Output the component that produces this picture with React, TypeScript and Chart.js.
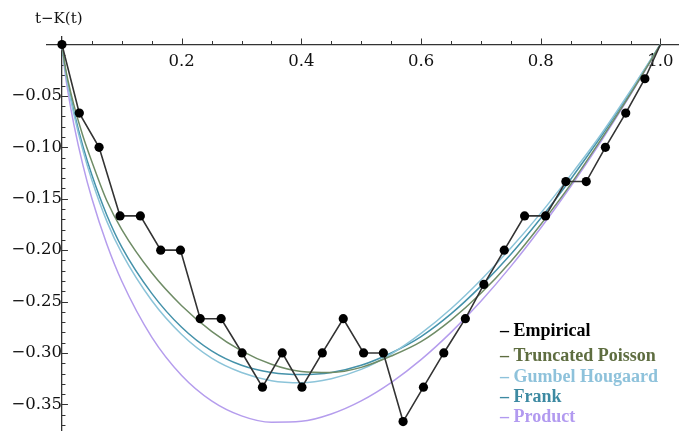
import React, { useEffect, useRef } from "react";
import { Chart, registerables } from "chart.js";

Chart.register(...registerables);

// ---- data ----
const empiricalT = [0, 0.029, 0.062, 0.097, 0.131, 0.165, 0.198, 0.231, 0.266, 0.301, 0.335, 0.368, 0.401, 0.435, 0.47, 0.504, 0.537, 0.57, 0.604, 0.638, 0.674, 0.705, 0.739, 0.773, 0.808, 0.842, 0.876, 0.908, 0.942, 0.974, 1.0];
const empiricalV = [0, -0.0667, -0.1, -0.1667, -0.1667, -0.2, -0.2, -0.2667, -0.2667, -0.3, -0.3333, -0.3, -0.3333, -0.3, -0.2667, -0.3, -0.3, -0.3667, -0.3333, -0.3, -0.2667, -0.2333, -0.2, -0.1667, -0.1667, -0.1333, -0.1333, -0.1, -0.0667, -0.0333, 0];

const curveT = [0, 0.005, 0.01, 0.02, 0.035, 0.05, 0.075, 0.1, 0.15, 0.2, 0.25, 0.3, 0.35, 0.4, 0.45, 0.5, 0.55, 0.6, 0.65, 0.7, 0.75, 0.8, 0.85, 0.9, 0.95, 1];
const truncatedPoisson = [0, -0.02, -0.035, -0.059, -0.089, -0.114, -0.152, -0.18, -0.222, -0.254, -0.279, -0.298, -0.311, -0.318, -0.319, -0.314, -0.303, -0.289, -0.268, -0.242, -0.211, -0.175, -0.136, -0.093, -0.048, 0];
const gumbelHougaard = [0, -0.023, -0.04, -0.068, -0.103, -0.132, -0.172, -0.203, -0.249, -0.282, -0.305, -0.319, -0.327, -0.329, -0.325, -0.316, -0.301, -0.281, -0.257, -0.229, -0.198, -0.164, -0.127, -0.088, -0.045, 0];
const frank = [0, -0.022, -0.038, -0.065, -0.099, -0.127, -0.166, -0.197, -0.242, -0.275, -0.298, -0.312, -0.319, -0.321, -0.319, -0.312, -0.3, -0.284, -0.262, -0.235, -0.204, -0.169, -0.131, -0.09, -0.046, 0];
const product = [0, -0.0265, -0.0461, -0.0782, -0.1173, -0.1498, -0.1943, -0.2303, -0.2846, -0.3219, -0.3466, -0.3612, -0.3674, -0.3665, -0.3593, -0.3466, -0.3288, -0.3065, -0.28, -0.2497, -0.2158, -0.1785, -0.1381, -0.0948, -0.0487, 0];

const seriesNames = ["Empirical", "Truncated Poisson", "Gumbel Hougaard", "Frank", "Product"];
const seriesColors = ["#111111", "#6f8c66", "#8cc4d9", "#4592aa", "#b59ded"];
const legendColors = ["#000000", "#5e6d40", "#8ec2db", "#3d8aa2", "#b29af0"];

const yTitle = "t\u2212K(t)";
const xMajorStep = 0.2;
const xMinorStep = 0.05;
const yMajorStep = 0.05;
const yMinorStep = 0.01;

const toXY = (xs: number[], ys: number[]) => xs.map((x, i) => ({ x, y: ys[i] }));

const decorPlugin = {
  id: "decor",
  beforeDatasetsDraw(chart: any) {
    const { ctx, scales } = chart;
    const xs = scales.x;
    const ys = scales.y;
    const y0 = ys.getPixelForValue(0);
    const x0 = xs.getPixelForValue(0);
    ctx.save();
    ctx.strokeStyle = "#333";
    ctx.lineWidth = 1;
    ctx.beginPath();
    const nx = Math.round(1 / xMinorStep);
    const perMajX = Math.round(xMajorStep / xMinorStep);
    for (let i = 1; i <= nx; i++) {
      const px = Math.round(xs.getPixelForValue(i * xMinorStep)) + 0.5;
      const len = i % perMajX === 0 ? 6 : 3.5;
      ctx.moveTo(px, y0);
      ctx.lineTo(px, y0 - len);
    }
    const ny = Math.floor(-ys.min / yMinorStep);
    const perMajY = Math.round(yMajorStep / yMinorStep);
    for (let i = 1; i <= ny; i++) {
      const py = Math.round(ys.getPixelForValue(-i * yMinorStep)) + 0.5;
      const len = i % perMajY === 0 ? 6 : 3.5;
      ctx.moveTo(x0, py);
      ctx.lineTo(x0 + len, py);
    }
    ctx.stroke();
    ctx.restore();
  },
  afterDraw(chart: any) {
    const { ctx } = chart;
    ctx.save();
    ctx.font = "15px 'DejaVu Serif'";
    ctx.fillStyle = "#111";
    ctx.textBaseline = "middle";
    ctx.textAlign = "left";
    ctx.fillText(yTitle, 35, 19);
    ctx.font = "bold 18px 'Liberation Serif'";
    const rows = [331, 356, 377, 397, 417];
    seriesNames.forEach((name, i) => {
      ctx.fillStyle = legendColors[i];
      ctx.fillText("\u2013 " + name, 500, rows[i]);
    });
    ctx.restore();
  },
};

export default function App() {
  const ref = useRef<HTMLCanvasElement | null>(null);
  useEffect(() => {
    document.body.style.margin = "0";
    document.body.style.overflow = "hidden";
    document.documentElement.style.overflow = "hidden";
    const canvas = ref.current;
    if (!canvas) return;
    const curveDs = (label: string, values: number[], color: string) => ({
      label,
      data: toXY(curveT, values),
      borderColor: color,
      backgroundColor: color,
      borderWidth: 1.5,
      pointRadius: 0,
      cubicInterpolationMode: "monotone" as const,
      fill: false,
    });
    const tickFont = { family: "'DejaVu Serif'", size: 16.5 };
    const chart = new Chart(canvas, {
      type: "line",
      data: {
        datasets: [
          {
            label: seriesNames[0],
            data: toXY(empiricalT, empiricalV),
            borderColor: "#333",
            backgroundColor: "#000",
            borderWidth: 1.6,
            pointRadius: empiricalT.map((_, i) => (i === empiricalT.length - 1 ? 0 : 4.6)),
            pointBorderWidth: 0,
            pointBackgroundColor: "#000",
            tension: 0,
            fill: false,
          },
          curveDs(seriesNames[1], truncatedPoisson, seriesColors[1]),
          curveDs(seriesNames[2], gumbelHougaard, seriesColors[2]),
          curveDs(seriesNames[3], frank, seriesColors[3]),
          curveDs(seriesNames[4], product, seriesColors[4]),
        ],
      },
      options: {
        animation: false,
        responsive: false,
        devicePixelRatio: 1,
        layout: { padding: { top: 37, left: 47, right: 0, bottom: 0 } },
        plugins: { legend: { display: false }, tooltip: { enabled: false }, title: { display: false } },
        scales: {
          x: {
            type: "linear",
            position: { y: 0 } as any,
            min: -0.025,
            max: 1.03,
            grid: { display: true, drawOnChartArea: false, drawTicks: false },
            border: { display: true, color: "#333", width: 1.3 },
            ticks: {
              stepSize: xMajorStep,
              includeBounds: false,
              autoSkip: false,
              maxRotation: 0,
              padding: 7,
              color: "#111",
              font: tickFont,
              callback: (v: any) => (Number(v) > 0.001 ? Number(v).toFixed(1) : ""),
            },
          },
          y: {
            type: "linear",
            position: { x: 0 } as any,
            min: -0.376,
            max: 0.0073,
            grid: { display: true, drawOnChartArea: false, drawTicks: false },
            border: { display: true, color: "#333", width: 1.3 },
            ticks: {
              stepSize: yMajorStep,
              includeBounds: false,
              autoSkip: false,
              padding: 7,
              color: "#111",
              font: tickFont,
              callback: (v: any) => (Number(v) < -0.001 ? "\u2212" + Math.abs(Number(v)).toFixed(2) : ""),
            },
          },
        },
      },
      plugins: [decorPlugin],
    });
    return () => chart.destroy();
  }, []);
  return (
    <div style={{ position: "fixed", left: 0, top: 0, width: 680, height: 431, overflow: "hidden", background: "#fff" }}>
      <canvas ref={ref} width={683} height={448} style={{ display: "block" }} />
    </div>
  );
}
